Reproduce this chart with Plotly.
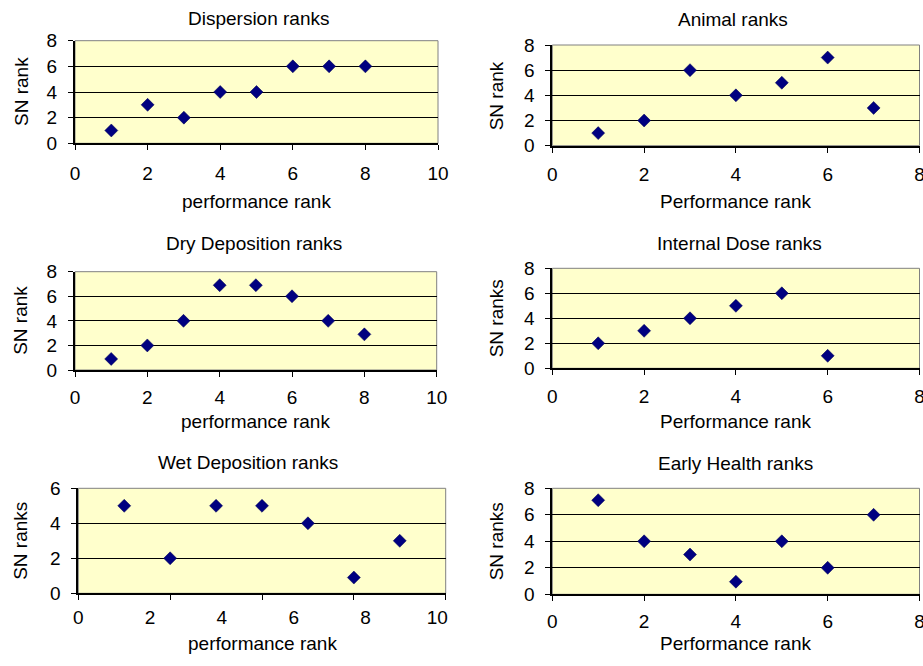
import plotly.graph_objects as go

# ---------------- data ----------------
titles = ["Dispersion ranks", "Animal ranks", "Dry Deposition ranks",
          "Internal Dose ranks", "Wet Deposition ranks", "Early Health ranks"]
x_titles = ["performance rank", "Performance rank", "performance rank",
            "Performance rank", "performance rank", "Performance rank"]
y_titles = ["SN rank", "SN rank", "SN rank", "SN ranks", "SN ranks", "SN ranks"]

disp_x = [1, 2, 3, 4, 5, 6, 7, 8]
disp_y = [1, 3, 2, 4, 4, 6, 6, 6]
animal_x = [1, 2, 3, 4, 5, 6, 7]
animal_y = [1, 2, 6, 4, 5, 7, 3]
dry_x = [1, 2, 3, 4, 5, 6, 7, 8]
dry_y = [0.9, 2, 4, 6.9, 6.9, 6, 4, 2.9]
internal_x = [1, 2, 3, 4, 5, 6]
internal_y = [2, 3, 4, 5, 6, 1]
wet_x = [1, 2, 3, 4, 5, 6, 7]
wet_y = [5, 2, 5, 5, 4, 0.9, 3]
early_x = [1, 2, 3, 4, 5, 6, 7]
early_y = [7.1, 4, 3, 0.95, 4, 2, 6]
wet_tick_labels = ["0", "2", "4", "6", "8", "10"]

series = [(disp_x, disp_y), (animal_x, animal_y), (dry_x, dry_y),
          (internal_x, internal_y), (wet_x, wet_y), (early_x, early_y)]
x_ranges = [[0, 10], [0, 8], [0, 10], [0, 8], [0, 8], [0, 8]]
y_ranges = [[0, 8], [0, 8], [0, 8], [0, 8], [0, 6], [0, 8]]

# ---------------- layout (pixel boxes of plot areas) ----------------
W, H = 923, 666
boxes = [  # left, right, top, bottom in px
    (75, 438, 40.7, 143.3),
    (552.3, 919.5, 45, 145.7),
    (75, 436.7, 271.7, 370),
    (552.3, 919.5, 268.3, 368.3),
    (78.3, 445.7, 488.3, 593.3),
    (552.3, 919.5, 488.3, 594.3),
]
title_pos = [(259, 19), (733, 20), (254, 243), (739, 243), (248, 462), (735, 463)]
xtitle_y = [202, 201, 421, 421, 643, 643]
ytitle_x = [21, 496, 21, 496, 21, 496]
xlabel_standoff = [7, 5, 4, 5, 6, 4]

FONT = "Liberation Sans, Arial, sans-serif"
fig = go.Figure()
layout = dict(width=W, height=H,
              margin=dict(l=0, r=0, t=0, b=0, pad=0, autoexpand=False),
              paper_bgcolor="white", showlegend=False,
              font=dict(family=FONT, color="black"))
annotations = []
shapes = []

for i, ((xs, ys), (l, r, t, b)) in enumerate(zip(series, boxes)):
    n = i + 1
    xa = "x" if n == 1 else f"x{n}"
    ya = "y" if n == 1 else f"y{n}"
    fig.add_trace(go.Scatter(
        x=xs, y=ys, mode="markers", xaxis=xa, yaxis=ya,
        marker=dict(symbol="diamond", size=10, color="#000080",
                    line=dict(color="#000050", width=0.5)),
        cliponaxis=False))
    xdom = [l / W, r / W]
    ydom = [1 - b / H, 1 - t / H]
    xaxis = dict(domain=xdom, range=x_ranges[i], anchor=ya, automargin=False,
                 showline=True, linecolor="black", linewidth=2,
                 ticks="outside", ticklen=5, tickcolor="black", tickwidth=1,
                 dtick=2, tick0=0, showgrid=False, zeroline=False,
                 ticklabelstandoff=xlabel_standoff[i],
                 ticklabeloverflow="allow",
                 tickfont=dict(family=FONT, size=19, color="black"))
    if i == 4:
        # labels drawn at Excel's misaligned positions; tick marks every 2
        step = x_ranges[i][1] * 71.8 / (r - l)
        xaxis.update(tickmode="array",
                     tickvals=[k * step for k in range(len(wet_tick_labels))],
                     ticktext=wet_tick_labels, ticks="",
                     minor=dict(tickmode="array", tickvals=[0, 2, 4, 6, 8],
                                ticks="outside", ticklen=5, tickcolor="black",
                                tickwidth=1, showgrid=False))
    yaxis = dict(domain=ydom, range=y_ranges[i], anchor=xa, automargin=False,
                 showline=True, linecolor="black", linewidth=2,
                 ticks="outside", ticklen=5, tickcolor="black", tickwidth=1,
                 dtick=2, tick0=0, showgrid=True, gridcolor="black",
                 gridwidth=1, zeroline=False, ticklabelstandoff=7,
                 tickfont=dict(family=FONT, size=19, color="black"))
    layout["xaxis" if n == 1 else f"xaxis{n}"] = xaxis
    layout["yaxis" if n == 1 else f"yaxis{n}"] = yaxis
    # light yellow plot background with grey frame
    shapes.append(dict(type="rect", xref=f"{xa} domain", yref=f"{ya} domain",
                       x0=0, x1=1, y0=0, y1=1, fillcolor="#FFFFCC",
                       line=dict(color="#808080", width=1), layer="below"))
    tx, ty = title_pos[i]
    annotations.append(dict(text=titles[i], x=tx / W, y=1 - ty / H,
                            xref="paper", yref="paper", showarrow=False,
                            font=dict(family=FONT, size=19, color="black"),
                            xanchor="center", yanchor="middle"))
    annotations.append(dict(text=x_titles[i], x=(l + r) / 2 / W,
                            y=1 - xtitle_y[i] / H, xref="paper", yref="paper",
                            showarrow=False,
                            font=dict(family=FONT, size=19, color="black"),
                            xanchor="center", yanchor="middle"))
    annotations.append(dict(text=y_titles[i], x=ytitle_x[i] / W,
                            y=1 - (t + b) / 2 / H, xref="paper", yref="paper",
                            showarrow=False, textangle=-90,
                            font=dict(family=FONT, size=19, color="black"),
                            xanchor="center", yanchor="middle"))

layout["annotations"] = annotations
layout["shapes"] = shapes
layout["plot_bgcolor"] = "rgba(0,0,0,0)"
fig.update_layout(**layout)
fig.write_html("out.html",
               config={"displayModeBar": False},
               post_script="document.body.style.margin='0';"
                           "document.body.style.overflow='hidden';")
